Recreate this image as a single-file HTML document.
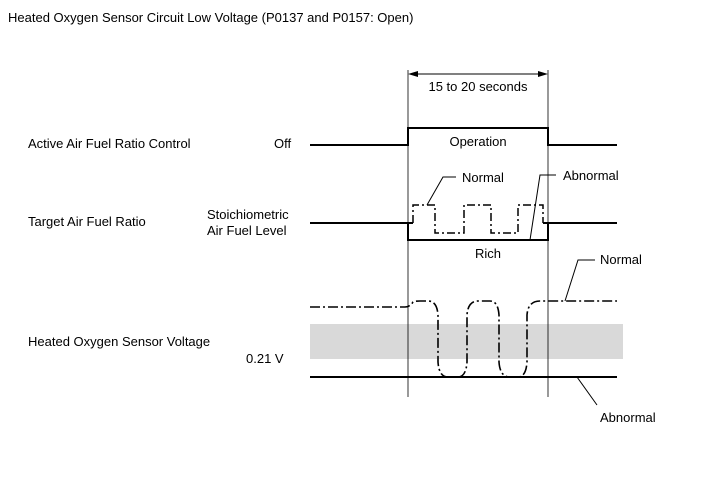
<!DOCTYPE html>
<html><head><style>body{margin:0;background:#fff}svg{display:block}text{font-family:"Liberation Sans",Arial,sans-serif;font-size:13px;fill:#000}</style></head>
<body>
<svg width="713" height="481" viewBox="0 0 713 481" xmlns="http://www.w3.org/2000/svg">
<rect x="310" y="324" width="313" height="35" fill="#d9d9d9"/>
<text x="8" y="22">Heated Oxygen Sensor Circuit Low Voltage (P0137 and P0157: Open)</text>
<text x="28" y="148">Active Air Fuel Ratio Control</text>
<text x="274" y="148">Off</text>
<text x="28" y="226">Target Air Fuel Ratio</text>
<text x="207" y="219">Stoichiometric</text>
<text x="207" y="235">Air Fuel Level</text>
<text x="28" y="346">Heated Oxygen Sensor Voltage</text>
<text x="246" y="363">0.21 V</text>
<text x="478" y="91" text-anchor="middle">15 to 20 seconds</text>
<text x="478" y="146" text-anchor="middle">Operation</text>
<text x="462" y="182">Normal</text>
<text x="563" y="180">Abnormal</text>
<text x="488" y="258" text-anchor="middle">Rich</text>
<text x="600" y="264">Normal</text>
<text x="600" y="422">Abnormal</text>
<g stroke="#000" fill="none">
<line x1="408" y1="70" x2="408" y2="397" stroke-width="0.8"/>
<line x1="548" y1="70" x2="548" y2="397" stroke-width="0.8"/>
<line x1="412" y1="74" x2="544" y2="74" stroke-width="1"/>
<path d="M408 74 l10 -3 v6z M548 74 l-10 -3 v6z" fill="#000" stroke="none"/>
<path d="M310 145 H408 V128 H548 V145 H617" stroke-width="2"/>
<path d="M310 223 H413 M543 223 H617" stroke-width="2"/>
<path d="M408 223 V240 H548 V223" stroke-width="2"/>
<path d="M413 223 V205 H435 V233 H464 V205 H491 V233 H518 V205 H543 V223" stroke-width="1.5" stroke-dasharray="8,3,2,3"/>
<path d="M427 205 L443 177 H456 M530 240 L540 175 H556" stroke-width="1"/>
<path d="M310 307 H405 Q410 307 413 302 Q415 301 420 301 H428 Q437 301 438 315 V362 Q439 377 448 377 H458 Q466 377 467 362 V315 Q468 301 478 301 H490 Q498 301 499 315 V362 Q500 377 510 377 H518 Q526 377 527 362 V315 Q528 301 540 301 H617" stroke-width="1.6" stroke-dasharray="10,3,2,3"/>
<line x1="310" y1="377" x2="617" y2="377" stroke-width="2"/>
<path d="M565 301 L578 260 H595 M577 377 L597 405" stroke-width="1"/>
</g>
</svg>
</body></html>
